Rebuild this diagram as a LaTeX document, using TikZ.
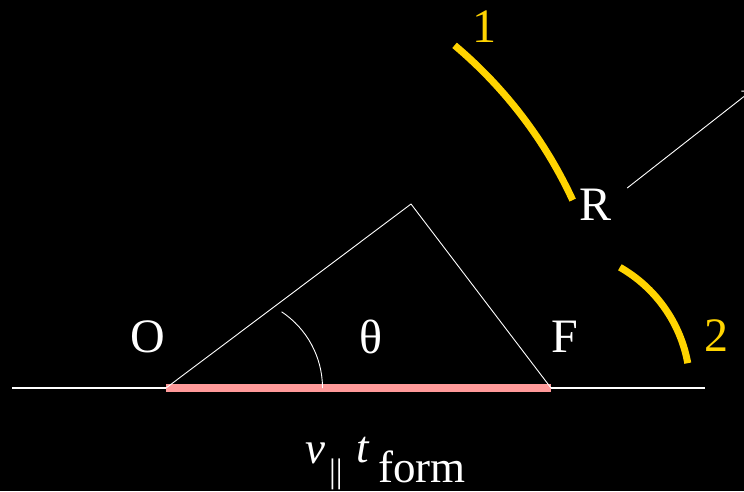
\documentclass[tikz,border=0pt]{standalone}
\usepackage{fontspec}
\setmainfont{Liberation Serif}
\usetikzlibrary{arrows.meta}

\definecolor{FormGold}{RGB}{255,212,0}
\definecolor{FormPink}{RGB}{255,153,153}
\def\FormSnapAxisLW{2.4pt}
\def\FormSnapEdgeLW{0.9pt}
\def\FormSnapFrontLW{7pt}
\def\FormSnapBaseLW{7.5pt}
\def\FormSnapBigFont{\fontsize{48}{52}\selectfont}
\def\FormSnapMathFont{\fontsize{45}{49}\selectfont}
\def\FormSnapSubFont{\fontsize{34}{38}\selectfont}
\newcommand{\FormSnapStyles}{%
  \tikzset{
    fslabel/.style={white, font=\FormSnapBigFont, inner sep=0pt},
    fsgoldlabel/.style={fslabel, text=FormGold},
    fsaxis/.style={white, line width=\FormSnapAxisLW},
    fsedge/.style={white, line width=\FormSnapEdgeLW, line join=round},
    fsbase/.style={FormPink, line width=\FormSnapBaseLW},
    fsfront/.style={FormGold, line width=\FormSnapFrontLW},
    fsangle/.style={white, line width=\FormSnapEdgeLW},
    fsray/.style={
      ->, white,
      line width=\FormSnapEdgeLW,
      >={Straight Barb[length=7pt, width=12pt]}},
    fsmath/.style={white, inner sep=0pt, anchor=base, font=\FormSnapMathFont},
    fsmathsub/.style={fsmath, font=\FormSnapSubFont},
  }%
}

\begin{document}
\begin{tikzpicture}[x=1pt, y=1pt]
  \FormSnapStyles
  \useasboundingbox[fill=black] (0,0) rectangle (744,-491);
  % triangle corners and axis ends
  \coordinate (O) at (166,-388);
  \coordinate (apex) at (411,-204);
  \coordinate (F) at (551,-388);
  \coordinate (axisL) at (12,-388);
  \coordinate (axisR) at (705,-388);
  \coordinate (rayEnd) at (751,-91);
  \draw[fsaxis] (axisL) -- (axisR);
  \draw[fsbase] (O) -- (F);
  \draw[fsedge] (O) -- (apex) -- (F);
  \draw[fsangle] ([shift={(56.4:91.5)}]231,-388) arc (56.4:0:91.5);
  % the two yellow fronts
  \draw[fsfront] ([shift={(49.9:448)}]O) arc (49.9:24.8:448);
  \draw[fsfront] ([shift={(60.3:139)}]F) arc (60.3:10.3:139);
  % labels
  \node[fslabel] (lblO) at (148,-337) {O};
  \node[fslabel] (lblTheta) at (371,-337) {θ};
  \node[fslabel] (lblF) at (565,-337) {F};
  \node[fslabel] (lblR) at (595,-205) {R};
  \node[fsgoldlabel] (lblOne) at (484,-27) {1};
  \node[fsgoldlabel] (lblTwo) at (716,-336) {2};
  \draw[fsray] ([shift={(16pt,17pt)}]lblR.east) -- (rayEnd);
  % v_par t_form
  \node[fsmath] (symV) at (315,-463) {\itshape v};
  \node[fsmathsub, text depth=0pt] (symPar) at (336,-482) {||};
  \node[fsmath] (symT) at (363,-462) {\itshape t};
  \node[fsmath, text depth=0pt] (symForm) at (422,-482) {form};
\end{tikzpicture}
\end{document}
